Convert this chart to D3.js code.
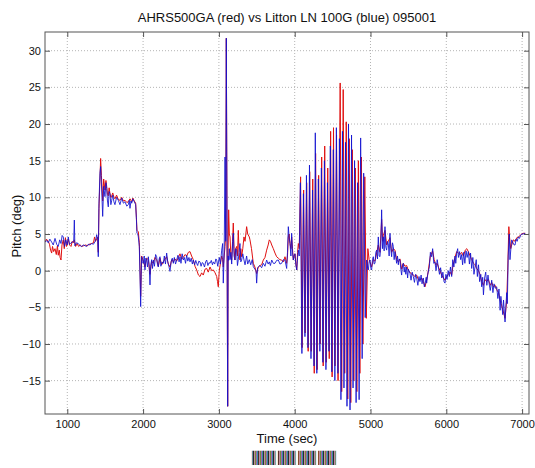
<!DOCTYPE html>
<html lang="en">
<head>
<meta charset="UTF-8" />
<title>AHRS500GA vs Litton LN 100G pitch</title>
<script src="https://cdn.jsdelivr.net/npm/d3@7"></script>
<style>
  body { margin: 0; background: #fff; }
  svg text { font-family: "Liberation Sans", Arial, Helvetica, sans-serif; fill: #111; }
</style>
</head>
<body>
<div id="chart"></div>
<script>
// pitch traces (time in sec, pitch in deg)
const redTime = [706,725,749,765,780,794,805,820,838,855,870,881,895,905,917,930,947,960,975,990,1013,1030,1049,1065,1080,1093,1110,1130,1150,1170,1190,1215,1240,1265,1290,1320,1345,1360,1372,1388,1401,1409,1418,1431,1440,1450,1460,1467,1480,1497,1510,1520,1530,1541,1552,1563,1575,1586,1600,1615,1629,1650,1673,1695,1718,1740,1761,1785,1805,1827,1850,1865,1884,1902,1912,1919,1937,1950,1960,1968,1981,2003,2025,2047,2069,2091,2113,2135,2157,2179,2201,2223,2245,2267,2290,2311,2333,2355,2377,2399,2420,2443,2465,2487,2510,2531,2553,2575,2597,2619,2640,2662,2685,2707,2730,2751,2772,2794,2817,2839,2860,2883,2905,2927,2950,2971,2982,2992,3005,3020,3037,3050,3058,3070,3081,3090,3098,3116,3122,3129,3138,3147,3158,3169,3180,3190,3200,3212,3222,3234,3245,3256,3266,3278,3289,3300,3315,3331,3345,3366,3380,3401,3410,3430,3454,3475,3498,3520,3542,3564,3586,3608,3630,3650,3665,3680,3697,3718,3740,3762,3784,3805,3828,3850,3872,3894,3905,3916,3927,3938,3950,3960,3971,3982,3993,4004,4015,4027,4038,4048,
  4060,4078,4098,4118,4138,4158,4178,4198,4218,4238,4258,4276,4296,4316,4336,4356,4376,4396,4416,4436,4456,4474,4494,4512,4532,4552,4572,4600,4620,4640,4660,4680,4700,4720,4740,4760,4780,4800,4820,4840,4860,4880,4900,4925,4945,
  4965,4982,4993,5015,5037,5059,5081,5103,5125,5147,5160,5169,5191,5213,5235,5257,5279,5301,5323,5345,5367,5389,5411,5433,5455,5477,5500,5521,5543,5565,5587,5609,5631,5653,5675,5697,5719,5741,5760,5776,5790,5807,5820,5840,5860,5880,5895,5917,5940,5962,5983,6005,6027,6050,6071,6090,6115,6137,6160,6180,6203,6225,6250,6270,6291,6315,6335,6360,6379,6400,6425,6445,6467,6490,6510,6530,6555,6580,6599,6620,6645,6665,6690,6710,6731,6750,6775,6797,6810,6825,6835,6850,6863,6885,6907,6930,6950,6975,6995,7020,7040];
const redPitch = [3.9,4.3,4.0,3.6,2.8,2.4,3.3,2.6,3.0,2.2,3.4,2.1,2.8,1.8,1.45,3.5,4.2,3.0,4.5,3.3,4.3,3.5,3.3,4.0,3.8,4.2,3.3,3.7,3.3,3.5,3.3,3.4,3.5,3.4,3.6,3.7,3.8,4.6,4.0,4.3,4.6,2.5,8.5,12.5,15.3,13.0,11.0,9.5,12.5,11.0,12.3,11.5,10.4,10.2,11.3,10.5,10.0,10.2,10.6,10.0,9.8,10.3,9.7,9.6,10.0,9.5,9.6,9.3,9.4,9.8,9.4,9.9,9.5,9.2,7.2,5.5,5.3,3.8,0.0,-3.5,2.0,1.3,0.5,1.7,1.5,-0.5,1.3,1.0,1.8,1.5,0.6,1.7,0.8,1.2,1.6,1.9,0.9,0.5,1.5,1.2,1.6,1.3,1.8,2.3,1.6,1.8,2.2,2.0,2.5,2.6,2.0,1.5,0.6,0.1,-0.6,-0.8,-0.3,-0.6,0.2,0.3,-0.2,0.5,0.0,0.1,-0.3,-0.8,-1.5,-2.2,0.0,1.0,2.0,1.5,0.5,2.0,3.3,5.0,31.7,-18.5,3.0,8.3,5.0,4.6,2.0,1.45,4.0,6.5,3.0,1.45,3.0,3.3,2.0,5.5,2.5,1.45,3.0,1.9,3.0,4.6,4.0,6.0,5.0,4.6,4.2,3.0,1.0,0.5,-0.4,0.5,0.7,0.8,1.45,1.8,2.8,3.5,4.2,4.0,3.5,3.0,2.4,1.9,1.7,1.5,1.45,1.2,1.9,1.0,2.0,4.6,5.0,3.7,3.0,4.6,3.0,1.45,2.0,2.3,1.0,0.1,2.5,3.7,
  3.0,12.8,-10.5,11.0,-8.5,12.0,-11.0,13.5,-11.0,12.5,-14.0,16.0,-13.5,13.0,-10.0,15.5,-13.0,17.0,-12.5,14.0,-12.0,19.0,-14.5,19.5,-13.0,18.5,-15.0,25.6,-16.5,24.7,-14.0,20.3,-17.5,18.0,-18.0,16.5,-15.0,14.0,-16.5,15.0,-14.0,15.5,-10.0,12.8,-6.5,
  3.0,1.5,1.2,0.5,1.5,1.3,2.4,3.5,2.5,7.0,4.0,4.8,5.5,3.5,4.0,4.5,2.5,3.0,2.8,1.5,1.2,1.6,0.2,1.0,0.6,0.7,0.0,-0.2,-0.5,-0.6,-0.8,-0.6,-1.2,-1.3,-1.0,-1.5,-2.2,-1.3,-0.2,1.0,2.0,2.4,2.7,1.5,0.8,1.0,0.5,0.0,-0.6,-1.0,-1.3,-0.8,-0.5,-0.2,-0.6,0.8,1.8,2.6,2.4,2.2,2.5,2.0,2.8,3.0,2.6,2.0,1.5,1.0,0.8,0.3,0.0,-0.5,-1.5,-2.0,-1.2,-1.5,-1.2,-2.0,-1.6,-2.2,-2.0,-2.6,-3.0,-4.0,-4.8,-5.5,-6.5,-4.0,0.0,6.0,4.5,3.0,3.5,4.2,4.0,4.5,4.6,4.8,5.0,5.1,5.1];

const blueTime = [706,730,749,770,794,815,838,860,881,900,917,932,947,965,980,1000,1013,1030,1049,1070,1085,1093,1100,1120,1145,1170,1190,1212,1234,1255,1277,1300,1322,1345,1365,1380,1388,1401,1409,1418,1431,1440,1454,1467,1480,1497,1510,1520,1530,1541,1552,1563,1575,1586,1600,1615,1629,1650,1673,1695,1718,1740,1761,1785,1805,1818,1827,1840,1850,1865,1884,1902,1912,1919,1930,1937,1950,1960,1968,1975,1981,1990,2003,2015,2025,2036,2047,
  2058,2069,2080,2091,2100,2113,2124,2135,2150,2165,2179,2190,2201,2212,2223,2235,2250,2267,2280,2295,2311,2325,2340,2355,2370,2385,2399,2412,2428,2443,2460,2475,2487,2500,2515,2531,2545,2560,2575,2590,2605,2619,2635,2650,2662,2680,2695,2707,2720,2735,2751,2765,2780,2794,2810,2825,2839,2855,2870,2883,2900,2915,2927,2945,2960,2971,2985,2992,3005,3020,3037,3050,3058,3070,3081,3090,3098,3116,3122,3129,3138,3147,3158,3169,3180,3190,3200,3212,3222,3234,3245,3256,3266,3278,3289,3300,3315,3331,3345,3366,3380,3401,3420,3440,3454,3475,3490,3498,3510,3520,3542,3564,3586,3608,3630,3650,3665,3680,3697,3718,3740,3762,3784,3805,3828,3850,3872,3894,3905,3916,3927,3938,3950,3960,3971,3982,3993,4004,4015,4027,4038,4048,
  4060,4075,4095,4115,4135,4155,4175,4195,4215,4235,4255,4272,4292,4312,4332,4352,4372,4392,4412,4432,4452,4470,4490,4510,4530,4550,4570,4590,4610,4630,4650,4670,4690,4710,4730,4750,4770,4790,4810,4830,4850,4870,4890,4910,4930,
  4950,4960,4971,4982,4993,5005,5015,5026,5037,5048,5059,5070,5081,5092,5103,5114,5125,5136,5147,5158,5169,5180,5191,5202,5213,5224,5235,5246,5257,5268,5279,5290,5301,5312,5323,5334,5345,5356,5367,5378,5389,5400,5411,5422,5433,5445,5455,5466,5477,5490,5500,5521,5535,5550,5565,5580,5595,5609,5625,5640,5653,5668,5680,5697,5710,5720,5735,5741,5755,5776,5790,5807,5820,5835,5850,5865,5880,5895,5910,5925,5940,5955,5970,5983,5995,6010,6025,6040,6055,6071,6085,6100,6115,6125,6137,6150,6160,6175,6190,6203,6215,6230,6245,6260,6275,6291,6305,6320,6335,6350,6365,6379,6395,6410,6425,6440,6455,6467,6480,6490,6505,6520,6535,6550,6565,6580,6599,6615,6630,6645,6665,6680,6695,6710,6720,6731,6745,6755,6765,6775,6785,6797,6805,6817,6831,6840,6852,6863,6880,6895,6907,6920,6935,6950,6965,6980,6995,7015,7040];
const bluePitch = [3.9,4.1,3.8,4.3,3.9,3.5,4.4,3.6,3.3,4.2,3.7,4.8,4.6,3.3,4.2,3.5,4.6,3.6,3.8,3.9,4.0,6.9,3.4,3.8,3.7,3.4,3.3,3.5,3.4,3.3,3.6,3.5,3.7,3.6,3.95,4.4,4.9,4.2,1.9,9.2,13.3,14.2,11.0,7.4,11.5,10.1,12.0,11.2,9.5,8.7,10.8,10.5,9.0,9.6,10.3,9.4,9.0,10.0,9.6,9.0,9.9,9.2,9.4,8.8,9.0,9.6,8.5,9.5,9.2,9.8,9.4,9.0,7.0,5.1,5.0,4.6,3.3,-1.0,-4.9,-0.5,1.9,1.2,1.0,2.0,0.1,1.7,1.45,
  0.5,1.9,0.8,-1.95,0.6,1.5,0.3,1.45,0.6,2.2,1.9,0.8,0.5,1.6,1.9,0.6,1.2,1.0,2.0,0.9,2.4,1.2,0.6,-0.1,1.2,1.7,1.0,1.8,0.9,1.45,2.1,1.2,1.9,1.0,2.3,1.45,1.8,1.0,2.1,1.3,1.8,1.2,1.7,0.9,1.45,0.8,1.4,1.0,0.7,1.3,1.2,0.6,1.1,1.0,0.5,1.2,1.45,0.7,1.1,1.0,1.4,0.8,1.2,0.9,1.6,1.45,0.6,1.0,1.8,0.9,2.8,3.7,-1.7,2.5,15.5,4.0,31.7,-18.5,2.0,1.4,3.0,1.5,2.5,0.9,3.5,5.1,2.0,1.45,3.0,2.8,0.7,1.5,2.5,3.7,1.2,1.45,2.3,1.45,0.8,2.0,0.9,1.5,0.8,1.5,0.55,0.2,0.0,-1.7,0.4,0.5,0.7,0.4,1.0,0.6,1.45,0.9,1.2,0.7,1.45,1.0,1.0,1.4,1.45,0.9,1.0,1.5,1.45,0.3,2.5,6.0,4.5,3.7,2.0,5.1,2.5,1.45,2.2,2.3,0.8,0.1,1.8,2.8,
  2.0,12.0,-11.3,10.5,-9.0,13.0,-10.5,14.4,-12.0,11.0,-13.0,18.8,-14.0,12.5,-11.0,14.0,-12.5,15.0,-13.5,12.0,-11.0,17.0,-13.8,16.5,-15.0,19.5,-14.0,18.0,-17.6,19.0,-16.0,17.5,-18.5,20.0,-19.0,18.5,-16.0,15.0,-18.0,12.0,-17.6,18.1,-12.0,13.3,-6.4,
  1.45,0.5,0.1,1.2,1.45,0.3,0.1,1.5,1.9,0.9,1.0,2.5,2.8,1.6,4.6,2.0,1.9,3.5,8.3,3.0,4.6,2.7,6.0,3.2,2.8,4.0,3.7,2.0,5.1,3.0,1.9,3.8,3.3,1.5,2.6,1.8,1.0,2.0,0.8,1.6,1.45,0.2,-0.6,0.8,1.0,-0.2,0.5,-0.5,0.5,-1.0,0.2,-0.4,-1.3,-0.2,-0.8,-1.6,-0.5,-1.0,-2.0,-0.8,-1.5,-0.6,-1.8,-1.0,-2.2,-1.8,-0.9,-1.7,-0.5,0.5,2.5,1.9,3.0,1.0,1.2,0.0,1.5,0.5,-0.5,0.4,-1.0,-0.2,-1.5,-1.7,-0.5,-1.2,0.0,-0.8,0.5,-0.8,1.5,0.5,2.0,1.0,2.4,3.0,1.8,2.6,1.5,2.2,0.8,2.5,1.0,2.7,1.8,2.6,0.9,2.4,0.3,1.8,-0.5,0.5,1.5,-0.8,0.8,-1.5,-0.5,-2.2,-0.9,-3.3,-1.0,-0.2,-2.0,-0.6,-1.8,-2.7,-1.3,-3.0,-1.8,-2.4,-2.2,-3.8,-2.5,-5.4,-3.5,-4.5,-6.0,-4.0,-5.5,-7.0,-5.0,-3.0,-4.5,2.0,5.0,1.5,3.0,4.2,3.8,3.5,3.5,4.3,4.0,4.6,4.4,4.8,5.0,5.0,5.1];

const xTicks = [1000, 2000, 3000, 4000, 5000, 6000, 7000];
const yTicks = [-15, -10, -5, 0, 5, 10, 15, 20, 25, 30];

if (redTime.length !== redPitch.length || blueTime.length !== bluePitch.length) {
  throw new Error("length mismatch red " + redTime.length + "/" + redPitch.length +
    " blue " + blueTime.length + "/" + bluePitch.length);
}

const width = 535, height = 468;
const margin = {top: 32, right: 6, bottom: 54, left: 45};
const plotW = width - margin.left - margin.right;
const plotH = height - margin.top - margin.bottom;

const svg = d3.select("#chart").append("svg")
  .attr("width", width)
  .attr("height", height)
  .style("background", "#fff");

const x = d3.scaleLinear().domain([706, 7091]).range([0, plotW]);
const y = d3.scaleLinear().domain([-19.55, 32.55]).range([plotH, 0]);

const defs = svg.append("defs");
defs.append("clipPath").attr("id", "plotclip")
  .append("rect").attr("width", plotW).attr("height", plotH);

const g = svg.append("g").attr("transform", `translate(${margin.left},${margin.top})`);

// dotted grid
g.selectAll(".gx").data(xTicks).join("line")
  .attr("x1", d => x(d)).attr("x2", d => x(d))
  .attr("y1", 0).attr("y2", plotH)
  .attr("stroke", "#b4b4b4").attr("stroke-dasharray", "1,2");
g.selectAll(".gy").data(yTicks).join("line")
  .attr("x1", 0).attr("x2", plotW)
  .attr("y1", d => y(d)).attr("y2", d => y(d))
  .attr("stroke", "#b4b4b4").attr("stroke-dasharray", "1,2");

// traces, red underneath blue
const redData = redTime.map((t, i) => [t, redPitch[i]]);
const blueData = blueTime.map((t, i) => [t, bluePitch[i]]);
const line = d3.line().x(d => x(d[0])).y(d => y(d[1]));

const traces = g.append("g").attr("clip-path", "url(#plotclip)");
traces.append("path").datum(redData)
  .attr("d", line).attr("fill", "none")
  .attr("stroke", "#e01010").attr("stroke-width", 1);
traces.append("path").datum(blueData)
  .attr("d", line).attr("fill", "none")
  .attr("stroke", "#1010d0").attr("stroke-width", 1).attr("stroke-opacity", 0.85);

// axes with inward ticks on all four sides
const tickLen = 5;
const axBottom = g.append("g").attr("transform", `translate(0,${plotH})`)
  .call(d3.axisBottom(x).tickValues(xTicks).tickFormat(d3.format("d"))
    .tickSizeInner(-tickLen).tickSizeOuter(0).tickPadding(6));
const axTop = g.append("g")
  .call(d3.axisTop(x).tickValues(xTicks).tickSizeInner(-tickLen).tickSizeOuter(0).tickFormat(""));
const axLeft = g.append("g")
  .call(d3.axisLeft(y).tickValues(yTicks).tickSizeInner(-tickLen).tickSizeOuter(0).tickPadding(4));
const axRight = g.append("g").attr("transform", `translate(${plotW},0)`)
  .call(d3.axisRight(y).tickValues(yTicks).tickSizeInner(-tickLen).tickSizeOuter(0).tickFormat(""));

[axBottom, axTop, axLeft, axRight].forEach(a => {
  a.select(".domain").remove();
  a.selectAll("line").attr("stroke", "#555");
  a.selectAll("text").style("font-size", "11px").attr("fill", "#111")
    .style("font-family", '"Liberation Sans", Arial, sans-serif');
});

g.append("rect")
  .attr("width", plotW).attr("height", plotH)
  .attr("fill", "none").attr("stroke", "#555").attr("stroke-width", 1);

// labels
svg.append("text")
  .attr("x", margin.left + plotW / 2).attr("y", 22)
  .attr("text-anchor", "middle").style("font-size", "13px")
  .text("AHRS500GA (red) vs Litton LN 100G (blue) 095001");

svg.append("text")
  .attr("x", margin.left + plotW / 2).attr("y", 443)
  .attr("text-anchor", "middle").style("font-size", "13px")
  .text("Time (sec)");

svg.append("text")
  .attr("transform", `translate(21,${margin.top + plotH / 2 + 3}) rotate(-90)`)
  .attr("text-anchor", "middle").style("font-size", "13px")
  .text("Pitch (deg)");

// illegible stamp under the x label, drawn as striped block glyphs
const pat = defs.append("pattern")
  .attr("id", "stamp").attr("patternUnits", "userSpaceOnUse")
  .attr("width", 5).attr("height", 3);
["#7a8a3c", "#9a6ab8", "#3c8aa0", "#2a2a2a", "#c08a9a"].forEach((c, i) =>
  pat.append("rect").attr("x", i).attr("width", 1).attr("height", 3).attr("fill", c));

svg.append("text")
  .attr("x", 252).attr("y", 462)
  .attr("textLength", 84).attr("lengthAdjust", "spacingAndGlyphs")
  .style("font-family", '"DejaVu Sans", sans-serif')
  .style("font-size", "12px")
  .style("fill", "url(#stamp)")
  .text("████ ███ ███ ███");
</script>
</body>
</html>
